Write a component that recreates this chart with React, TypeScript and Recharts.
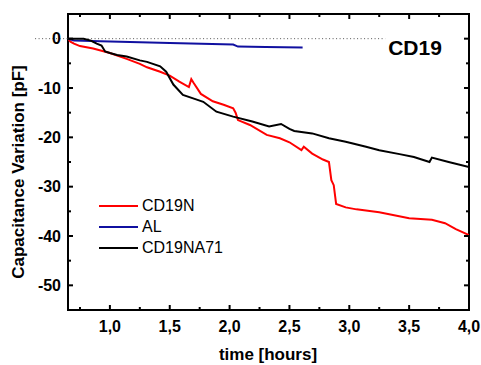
import { Legend, Line, LineChart, ReferenceArea, ReferenceLine, XAxis, YAxis } from "recharts";

const seriesNames = ["CD19N", "AL", "CD19NA71"];

// CD19N (red)
const redTime = [
  0.65, 0.67, 0.7, 0.75, 0.86, 1.0, 1.14, 1.25, 1.31, 1.42, 1.5, 1.58, 1.66, 1.68, 1.7, 1.76,
  1.86, 1.95, 2.03, 2.05, 2.07, 2.17, 2.31, 2.42, 2.5, 2.6, 2.62, 2.69, 2.78, 2.83, 2.85, 2.87,
  2.89, 2.97, 3.06, 3.25, 3.5, 3.69, 3.8, 3.89, 4.0,
];
const redValues = [
  0, -0.6, -1.0, -1.5, -2.0, -2.9, -4.1, -5.1, -5.8, -6.7, -7.5, -8.7, -9.8, -8.2, -9.0, -11.2,
  -12.7, -13.4, -14.1, -15.0, -16.5, -17.5, -19.5, -20.2, -21.0, -22.6, -21.9, -23.3, -24.5,
  -25.0, -28.7, -29.7, -33.5, -34.2, -34.6, -35.2, -36.4, -36.7, -37.4, -38.6, -39.8,
];

// AL (blue)
const blueTime = [0.65, 0.7, 0.92, 1.5, 2.03, 2.07, 2.3, 2.61];
const blueValues = [0, -0.35, -0.5, -0.9, -1.2, -1.6, -1.7, -1.8];

// CD19NA71 (black)
const blackTime = [
  0.65, 0.78, 0.84, 0.89, 0.93, 0.96, 1.0, 1.06, 1.14, 1.25, 1.31, 1.42, 1.47, 1.53, 1.61, 1.72,
  1.78, 1.89, 2.03, 2.19, 2.33, 2.43, 2.5, 2.54, 2.69, 2.83, 2.97, 3.14, 3.25, 3.42, 3.54, 3.67,
  3.69, 3.83, 4.0,
];
const blackValues = [
  0, 0, -0.4, -1.0, -1.4, -2.6, -2.9, -3.3, -3.6, -4.4, -4.7, -5.6, -6.7, -9.3, -11.4, -12.3,
  -12.8, -14.8, -15.8, -16.8, -17.8, -17.3, -18.3, -18.7, -19.2, -20.2, -20.9, -21.9, -22.6,
  -23.4, -24.0, -25.0, -24.1, -25.0, -26.0,
];

const xTicks = [0.75, 1.0, 1.25, 1.5, 1.75, 2.0, 2.25, 2.5, 2.75, 3.0, 3.25, 3.5, 3.75, 4.0];
const yTicks = [0, -5, -10, -15, -20, -25, -30, -35, -40, -45, -50];
const xDomain = [0.65, 4.0];
const yDomain = [-55, 5];

const toPoints = (ts: number[], vs: number[]) => ts.map((t, i) => ({ t, v: vs[i] }));

const redData = toPoints(redTime, redValues);
const blueData = toPoints(blueTime, blueValues);
const blackData = toPoints(blackTime, blackValues);

const FONT = '"Liberation Sans", Arial, sans-serif';

const isMajorX = (v: number) => Math.abs(v * 2 - Math.round(v * 2)) < 1e-6;
const isMajorY = (v: number) => Math.abs(v % 10) < 1e-6;

function BottomTick({ x, y, payload }: any) {
  const major = isMajorX(payload.value);
  return (
    <g>
      <line x1={x} x2={x} y1={y} y2={y - (major ? 5 : 3)} stroke="#000" strokeWidth={2} />
      {major && (
        <text x={x} y={y + 22} textAnchor="middle" fontFamily={FONT} fontWeight="bold" fontSize={16} fill="#000">
          {payload.value.toFixed(1).replace(".", ",")}
        </text>
      )}
    </g>
  );
}

function TopTick({ x, y, payload }: any) {
  const major = isMajorX(payload.value);
  return <line x1={x} x2={x} y1={y} y2={y + (major ? 5 : 3)} stroke="#000" strokeWidth={2} />;
}

function LeftTick({ x, y, payload }: any) {
  const major = isMajorY(payload.value);
  return (
    <g>
      <line x1={x} x2={x + (major ? 5 : 3)} y1={y} y2={y} stroke="#000" strokeWidth={2} />
      {major && (
        <text x={x - 7} y={y} dy="0.36em" textAnchor="end" fontFamily={FONT} fontWeight="bold" fontSize={16} fill="#000">
          {payload.value}
        </text>
      )}
    </g>
  );
}

function RightTick({ x, y, payload }: any) {
  const major = isMajorY(payload.value);
  return <line x1={x} x2={x - (major ? 5 : 3)} y1={y} y2={y} stroke="#000" strokeWidth={2} />;
}

function renderLegend({ payload }: any) {
  const items = [...(payload || [])].sort(
    (a: any, b: any) => seriesNames.indexOf(a.value) - seriesNames.indexOf(b.value)
  );
  return (
    <div style={{ fontFamily: FONT, fontSize: 16 }}>
      {items.map((entry: any) => (
        <div key={entry.value} style={{ display: "flex", alignItems: "center", height: 21 }}>
          <div style={{ width: 39, height: 2, background: entry.color, marginRight: 4 }} />
          <span style={{ color: "#000" }}>{entry.value}</span>
        </div>
      ))}
    </div>
  );
}

export default function App() {
  return (
    <div style={{ position: "absolute", left: 0, top: 0, background: "#fff" }}>
      <LineChart width={481} height={365} margin={{ top: 13, right: 11, bottom: 15, left: 8 }}>
        <XAxis
          xAxisId="b"
          type="number"
          dataKey="t"
          domain={xDomain}
          ticks={xTicks}
          interval={0}
          height={40}
          tickSize={0}
          tickMargin={0}
          tick={<BottomTick />}
          axisLine={false}
          allowDataOverflow
        />
        <XAxis
          xAxisId="top"
          orientation="top"
          type="number"
          dataKey="t"
          domain={xDomain}
          ticks={xTicks}
          interval={0}
          height={1}
          tickSize={0}
          tickMargin={0}
          tick={<TopTick />}
          axisLine={false}
          allowDataOverflow
        />
        <YAxis
          yAxisId="l"
          type="number"
          domain={yDomain}
          ticks={yTicks}
          interval={0}
          width={60}
          tickSize={0}
          tickMargin={0}
          tick={<LeftTick />}
          axisLine={false}
          allowDataOverflow
        />
        <YAxis
          yAxisId="r"
          orientation="right"
          type="number"
          domain={yDomain}
          ticks={yTicks}
          interval={0}
          width={1}
          tickSize={0}
          tickMargin={0}
          tick={<RightTick />}
          axisLine={false}
          allowDataOverflow
        />
        <ReferenceArea
          xAxisId="b"
          yAxisId="l"
          x1={xDomain[0]}
          x2={xDomain[1]}
          y1={yDomain[0]}
          y2={yDomain[1]}
          fill="none"
          fillOpacity={0}
          stroke="#000"
          strokeWidth={2}
          strokeOpacity={1}
          ifOverflow="visible"
        />
        <ReferenceLine
          xAxisId="b"
          yAxisId="l"
          segment={[
            { x: 0.375, y: 0 },
            { x: 3.3, y: 0 },
          ]}
          ifOverflow="visible"
          stroke="#555"
          strokeWidth={1}
          strokeDasharray="1 2.5"
        />
        <Line
          xAxisId="b"
          yAxisId="l"
          data={redData}
          dataKey="v"
          name="CD19N"
          type="linear"
          stroke="#ff0000"
          strokeWidth={2}
          dot={false}
          isAnimationActive={false}
        />
        <Line
          xAxisId="b"
          yAxisId="l"
          data={blueData}
          dataKey="v"
          name="AL"
          type="linear"
          stroke="#1010a0"
          strokeWidth={2}
          dot={false}
          isAnimationActive={false}
        />
        <Line
          xAxisId="b"
          yAxisId="l"
          data={blackData}
          dataKey="v"
          name="CD19NA71"
          type="linear"
          stroke="#000"
          strokeWidth={2}
          dot={false}
          isAnimationActive={false}
        />
        <Legend
          layout="vertical"
          verticalAlign="middle"
          align="center"
          content={renderLegend}
          wrapperStyle={{ left: 99, top: 195, width: 160 }}
        />
        <text x={415} y={55} textAnchor="middle" fontFamily={FONT} fontWeight="bold" fontSize={21} fill="#000">
          CD19
        </text>
        <text
          x={18}
          y={172}
          transform="rotate(-90 18 172)"
          textAnchor="middle"
          dominantBaseline="central"
          fontFamily={FONT}
          fontWeight="bold"
          fontSize={17}
          fill="#000"
        >
          Capacitance Variation [pF]
        </text>
        <text x={268} y={360} textAnchor="middle" fontFamily={FONT} fontWeight="bold" fontSize={17} fill="#000">
          time [hours]
        </text>
      </LineChart>
    </div>
  );
}
